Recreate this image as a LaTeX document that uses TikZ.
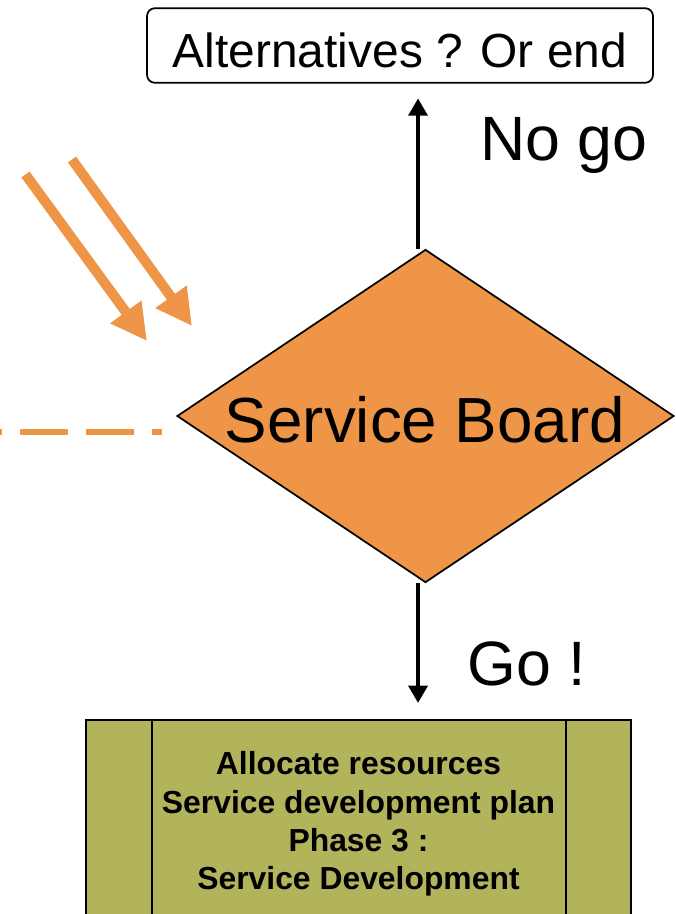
\documentclass[tikz,border=0pt]{standalone}
\usepackage{fontspec}
\setmainfont{Liberation Sans}
\usetikzlibrary{shapes.geometric,arrows.meta}
\definecolor{orng}{RGB}{238,149,72}
\definecolor{olive}{RGB}{178,180,92}
\tikzset{
  blackarrow/.style={line width=3.5pt,-{Triangle[length=13pt,width=14pt]}},
  orangearrow/.style={orng,line width=7.5pt,-{Triangle[length=27pt,width=27pt]}},
  bigtext/.style={inner sep=0pt,font=\fontsize{47}{56}\selectfont},
}
\begin{document}
\begin{tikzpicture}[x=0.75pt,y=-0.75pt]
\clip (0,0) rectangle (675,914);
\fill[white] (0,0) rectangle (675,914);
% top box
\node[draw,line width=1.3pt,rounded corners=6pt,minimum width=379.5pt,minimum height=56pt,inner sep=0pt] (alt) at (400,45.5) {};
\node[anchor=base,inner sep=0pt,font=\fontsize{35.9}{42}\selectfont] (alttext) at (400,67) {Alternatives ? Or end};
% diamond
\node[diamond,draw,line width=1.3pt,fill=orng,minimum width=372.75pt,minimum height=249.75pt,inner sep=0pt] (board) at (425.5,416) {};
\node[bigtext,anchor=base,font=\fontsize{47.8}{56}\selectfont] (boardtext) at (425,442) {Service Board};
% bottom box
\node[draw,line width=1.5pt,fill=olive,minimum width=408.75pt,minimum height=195pt,inner sep=0pt,anchor=north] (dev) at (358.5,719) {};
\coordinate (ileft) at (152,719);
\coordinate (iright) at (566,719);
\draw[line width=1.5pt] (ileft) -- (ileft |- dev.south);
\draw[line width=1.5pt] (iright) -- (iright |- dev.south);
\node[align=center,inner sep=0pt,font=\bfseries\fontsize{23.9}{28.75}\selectfont] (devtext) at (358.5,824) {Allocate resources\\Service development plan\\Phase 3 :\\Service Development};
% connectors
\draw[blackarrow,shorten >=11pt] ([xshift=-5.6pt]board.north) -- ([xshift=-5.6pt]board.north |- alt.south);
\draw[blackarrow,shorten >=12pt] ([xshift=-5.6pt]board.south) -- ([xshift=-5.6pt]board.south |- dev.north);
\node[bigtext,anchor=base west] (nogo) at (480,160) {No go};
\node[bigtext,anchor=base west] (go) at (467,685) {Go !};
% orange arrows
\coordinate (a1s) at (25.5,174.5);
\coordinate (a1e) at (147,341);
\coordinate (a2s) at (72,159.5);
\coordinate (a2e) at (192,326);
\draw[orangearrow] (a1s) -- (a1e);
\draw[orangearrow] (a2s) -- (a2e);
% dashed line
\coordinate (ds) at (162,432);
\coordinate (de) at (-5,432);
\draw[orng,line width=4pt,dash pattern=on 36pt off 13.5pt,dash phase=28.5pt] (ds) -- (de);
\end{tikzpicture}
\end{document}
